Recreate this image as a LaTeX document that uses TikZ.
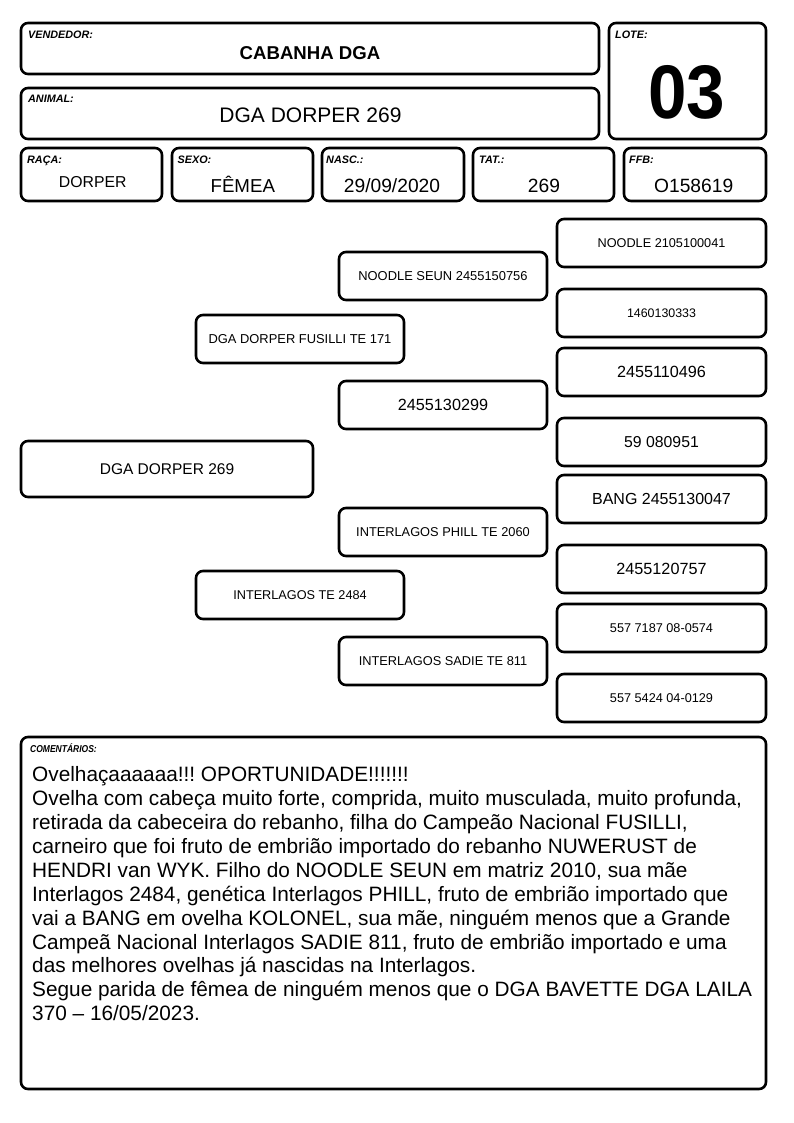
\documentclass[tikz,border=0pt]{standalone}
\usepackage{fontspec}
\usepackage{graphicx}
\setmainfont{Liberation Sans}
\frenchspacing
\newcommand{\fs}[1]{\fontsize{#1}{#1}\selectfont}
\tikzset{
  box/.style={draw=black, line width=2.6pt, rounded corners=7pt, fill=white, inner sep=0pt, align=center},
  lbl/.style={anchor=base west, inner sep=0pt, font=\fs{10.8}\bfseries\itshape},
  val/.style={anchor=base, inner sep=0pt}
}
% name, x1, y1, x2, y2, size, text
\newcommand{\pbox}[7]{\node[box, font=\fs{#6}, minimum width={#4-#2}, minimum height={#5-#3}] (#1) at ({(#2+#4)/2},{(#3+#5)/2}) {#7};}
\begin{document}
\begin{tikzpicture}[x=1pt,y=-1pt]
\useasboundingbox[fill=white] (0,0) rectangle (794,1123);
% header boxes
\pbox{vend}{21}{23}{599}{74}{10}{}
\pbox{lote}{609}{23}{766}{139}{10}{}
\pbox{anim}{21}{88}{599}{139}{10}{}
\pbox{raca}{21}{148}{162}{201}{10}{}
\pbox{sexo}{172}{148}{313}{201}{10}{}
\pbox{nasc}{322}{148}{464}{201}{10}{}
\pbox{tat}{473}{148}{614}{201}{10}{}
\pbox{ffb}{624}{148}{766}{201}{10}{}
% labels
\node[lbl] (lvend) at (28,39) {VENDEDOR:};
\node[lbl] (lanim) at (28,103) {ANIMAL:};
\node[lbl] (llote) at (615,39) {LOTE:};
\node[lbl] (lraca) at (27,164) {RAÇA:};
\node[lbl] (lsexo) at (177.5,164) {SEXO:};
\node[lbl] (lnasc) at (326,164) {NASC.:};
\node[lbl] (ltat) at (479,164) {TAT.:};
\node[lbl] (lffb) at (629,164) {FFB:};
% values
\node[val, font=\fs{18.6}\bfseries] (vvend) at (310,60) {CABANHA DGA};
\node[val, font=\fs{21}] (vanim) at (310.5,123) {DGA DORPER 269};
\node[val, font=\fs{76}\bfseries] (vlote) at (686.5,119) {\scalebox{0.91}[1]{03}};
\node[val, font=\fs{15.8}] (vraca) at (92.7,187.5) {DORPER};
\node[val, font=\fs{18.7}] (vsexo) at (242.8,192.3) {FÊMEA};
\node[val, font=\fs{19.2}] (vnasc) at (392,192.3) {29/09/2020};
\node[val, font=\fs{19.2}] (vtat) at (544,192.3) {269};
\node[val, font=\fs{19.2}] (vffb) at (693.7,192.3) {O158619};
% pedigree
\pbox{p0}{21}{441}{313}{497}{15.5}{DGA DORPER 269}
\pbox{f}{196}{315}{404}{363}{12.9}{DGA DORPER FUSILLI TE 171}
\pbox{m}{196}{571}{404}{619}{12.7}{INTERLAGOS TE 2484}
\pbox{ff}{339}{252}{547}{300}{12.9}{NOODLE SEUN 2455150756}
\pbox{fm}{339}{381}{547}{429}{16.2}{2455130299}
\pbox{mf}{339}{508}{547}{556}{12.8}{INTERLAGOS PHILL TE 2060}
\pbox{mm}{339}{637}{547}{685}{12.8}{INTERLAGOS SADIE TE 811}
\pbox{fff}{557}{219}{766}{267}{12.7}{NOODLE 2105100041}
\pbox{ffm}{557}{289}{766}{337}{12.4}{1460130333}
\pbox{fmf}{557}{348}{766}{396}{16.2}{2455110496}
\pbox{fmm}{557}{418}{766}{466}{15.8}{59 080951}
\pbox{mff}{557}{475}{766}{523}{16}{BANG 2455130047}
\pbox{mfm}{557}{545}{766}{593}{16.2}{2455120757}
\pbox{mmf}{557}{604}{766}{652}{12.7}{557 7187 08-0574}
\pbox{mmm}{557}{674}{766}{722}{12.7}{557 5424 04-0129}
% comments
\pbox{com}{21}{737}{766}{1089}{10}{}
\node[lbl, font=\fs{10}\bfseries\itshape] (lcom) at (30,752.5) {\scalebox{0.85}[1]{COMENTÁRIOS:}};
\node[anchor=north west, inner sep=0pt, align=left, font=\fontsize{20.8}{23.9}\selectfont] (tcom) at (32,766.5) {%
Ovelhaçaaaaaa!!! OPORTUNIDADE!!!!!!!\\
Ovelha com cabeça muito forte, comprida, muito musculada, muito profunda,\\
retirada da cabeceira do rebanho, filha do Campeão Nacional FUSILLI,\\
carneiro que foi fruto de embrião importado do rebanho NUWERUST de\\
HENDRI van WYK. Filho do NOODLE SEUN em matriz 2010, sua mãe\\
Interlagos 2484, genética Interlagos PHILL, fruto de embrião importado que\\
vai a BANG em ovelha KOLONEL, sua mãe, ninguém menos que a Grande\\
Campeã Nacional Interlagos SADIE 811, fruto de embrião importado e uma\\
das melhores ovelhas já nascidas na Interlagos.\\
Segue parida de fêmea de ninguém menos que o DGA BAVETTE DGA LAILA\\
370 – 16/05/2023.};
\end{tikzpicture}
\end{document}
